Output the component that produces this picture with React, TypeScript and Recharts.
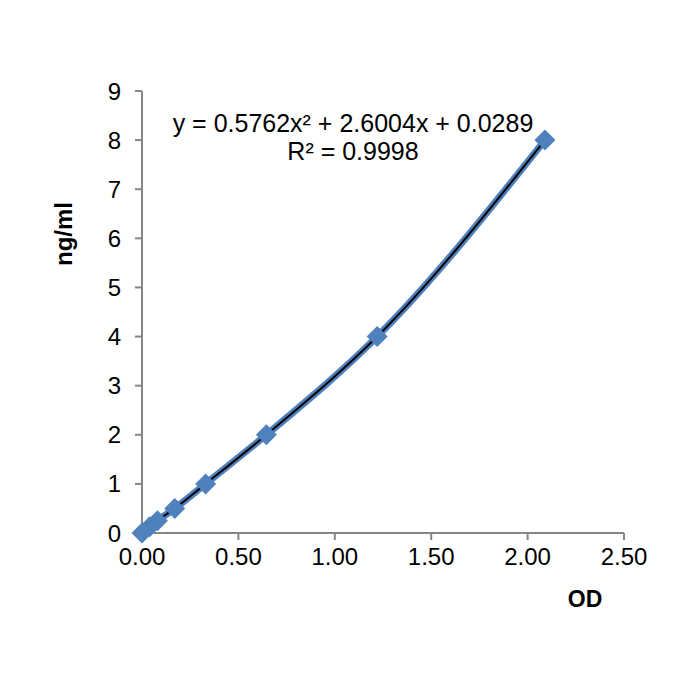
import { Line, LineChart, XAxis, YAxis } from "recharts";

const odValues = [0, 0.04, 0.08, 0.17, 0.33, 0.645, 1.22, 2.09];
const concValues = [0, 0.125, 0.25, 0.5, 1, 2, 4, 8];
const xTicks = [0, 0.5, 1, 1.5, 2, 2.5];
const yTicks = [0, 1, 2, 3, 4, 5, 6, 7, 8, 9];
const equationText = "y = 0.5762x² + 2.6004x + 0.0289";
const rSquaredText = "R² = 0.9998";

const data = odValues.map((od, i) => ({ od, conc: concValues[i] }));

const BLUE = "#4F81BD";
const AXIS = "#868686";
const FONT = "'Liberation Sans', Arial, sans-serif";

function Diamond(props: { cx?: number; cy?: number }) {
  const { cx, cy } = props;
  if (cx == null || cy == null) return null;
  const r = 10.5;
  return (
    <polygon
      points={`${cx},${cy - r} ${cx + r},${cy} ${cx},${cy + r} ${cx - r},${cy}`}
      fill={BLUE}
      stroke="none"
    />
  );
}

export default function App() {
  return (
    <div style={{ position: "absolute", left: 0, top: 0, width: 700, height: 700, background: "#fff", fontFamily: FONT }}>
      <LineChart
        width={700}
        height={700}
        data={data}
        margin={{ top: 91, right: 76, left: 102, bottom: 137 }}
      >
        <XAxis
          dataKey="od"
          type="number"
          domain={[0, 2.5]}
          ticks={xTicks}
          tickFormatter={(v: number) => v.toFixed(2)}
          stroke={AXIS}
          strokeWidth={2}
          tickSize={7}
          tickMargin={8}
          height={30}
          tick={{ fill: "#000", fontSize: 24, fontFamily: FONT }}
          interval={0}
        />
        <YAxis
          type="number"
          domain={[0, 9]}
          ticks={yTicks}
          stroke={AXIS}
          strokeWidth={2}
          tickSize={7}
          tickMargin={14}
          width={40}
          tick={{ fill: "#000", fontSize: 24, fontFamily: FONT }}
          interval={0}
        />
        <Line
          dataKey="conc"
          type="monotone"
          stroke={BLUE}
          strokeWidth={7}
          dot={<Diamond />}
          activeDot={false}
          isAnimationActive={false}
        />
        <Line
          dataKey="conc"
          type="monotone"
          stroke="#000"
          strokeWidth={2}
          dot={false}
          activeDot={false}
          isAnimationActive={false}
        />
      </LineChart>
      <div
        style={{
          position: "absolute",
          left: 103,
          width: 500,
          top: 109,
          textAlign: "center",
          fontSize: 25,
          lineHeight: "28px",
          color: "#000",
        }}
      >
        <div>{equationText}</div>
        <div>{rSquaredText}</div>
      </div>
      <div
        style={{
          position: "absolute",
          left: 64,
          top: 234,
          transform: "translate(-50%, -50%) rotate(-90deg)",
          fontSize: 24,
          fontWeight: "bold",
          whiteSpace: "nowrap",
        }}
      >
        ng/ml
      </div>
      <div
        style={{
          position: "absolute",
          left: 585,
          top: 599,
          transform: "translate(-50%, -50%)",
          fontSize: 23,
          fontWeight: "bold",
        }}
      >
        OD
      </div>
    </div>
  );
}
